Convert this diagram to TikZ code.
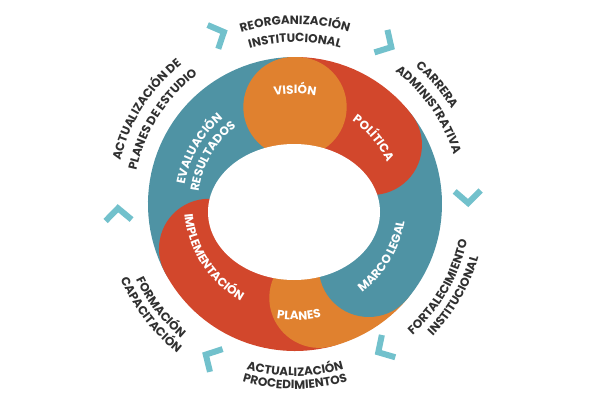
\documentclass[tikz,border=0pt]{standalone}
\usepackage{fontspec}
\setmainfont{Poppins}
\usetikzlibrary{decorations.text}
\definecolor{cteal}{HTML}{4F93A4}
\definecolor{cred}{HTML}{D2472C}
\definecolor{corange}{HTML}{E0812F}
\definecolor{cchev}{HTML}{72C1CC}
\definecolor{outgray}{HTML}{303030}
\newcommand\ringfont{\fontsize{12}{12}\selectfont\bfseries\color{white}}
\newcommand\outfont{\fontsize{12}{12}\selectfont\bfseries\color{outgray}}
% radius, start, end, font, text
\newcommand\arctext[5]{\path[decorate,decoration={text along path,text align=center,text={|#4|#5}}] ([shift={(C)}]#2:#1) arc[start angle=#2,end angle=#3,radius=#1];}
\newcommand\chevron[2]{\begin{scope}[shift={([shift={(C)}]#1:#2)},rotate=#1-90]
\draw[chev] (-7,13) -- (5,0) -- (-7,-13);\end{scope}}
\begin{document}
\begin{tikzpicture}[x=1pt,y=1pt,
  seg/.style={line width=100pt,line cap=round},
  chev/.style={draw=cchev,line width=6pt,line cap=butt,line join=miter}]
\useasboundingbox (0,0) rectangle (600,400);
\fill[white] (0,0) rectangle (600,400);
\coordinate (C) at (295,196);
\newcommand\seg[3]{\draw[seg,#1] ([shift={(C)}]#2:97) arc[start angle=#2,end angle=#3,radius=97];}
\seg{cteal}{207.5}{91}
\seg{cred}{284.5}{207.5}
\seg{corange}{-40.5}{-75.5}
\seg{cteal}{37.5}{-40.5}
\seg{cred}{89}{37.5}
\seg{corange}{91}{89}
\fill[white] (294,188) ellipse[x radius=86,y radius=68];
% ring texts
\arctext{110}{112}{68}{\ringfont}{VISIÓN}
\arctext{101}{64}{16}{\ringfont}{POLÍTICA}
\arctext{111}{-64}{2}{\ringfont}{MARCO LEGAL}
\arctext{116}{-110}{-66}{\ringfont}{PLANES}
\arctext{111}{168}{258}{\ringfont}{IMPLEMENTACIÓN}
\arctext{112}{190}{110}{\ringfont}{EVALUACIÓN}
\arctext{97}{190}{110}{\ringfont}{RESULTADOS}
% outer texts
\arctext{180}{125}{55}{\outfont}{REORGANIZACIÓN}
\arctext{162}{125}{55}{\outfont}{INSTITUCIONAL}
\arctext{183}{70}{10}{\outfont}{CARRERA}
\arctext{166}{75}{-5}{\outfont}{ADMINISTRATIVA}
\arctext{176}{-75}{15}{\outfont}{FORTALECIMIENTO}
\arctext{191}{-75}{15}{\outfont}{INSTITUCIONAL}
\arctext{172}{-125}{-55}{\outfont}{ACTUALIZACIÓN}
\arctext{185}{-125}{-55}{\outfont}{PROCEDIMIENTOS}
\arctext{176}{175}{260}{\outfont}{FORMACIÓN}
\arctext{190}{175}{260}{\outfont}{CAPACITACIÓN}
\arctext{180}{195}{100}{\outfont}{ACTUALIZACIÓN DE}
\arctext{162}{195}{100}{\outfont}{PLANES DE ESTUDIO}
% chevrons
\chevron{114}{186}
\chevron{60}{184}
\chevron{2}{173}
\chevron{-59}{170}
\chevron{-119}{175}
\chevron{183}{177}
\end{tikzpicture}
\end{document}
